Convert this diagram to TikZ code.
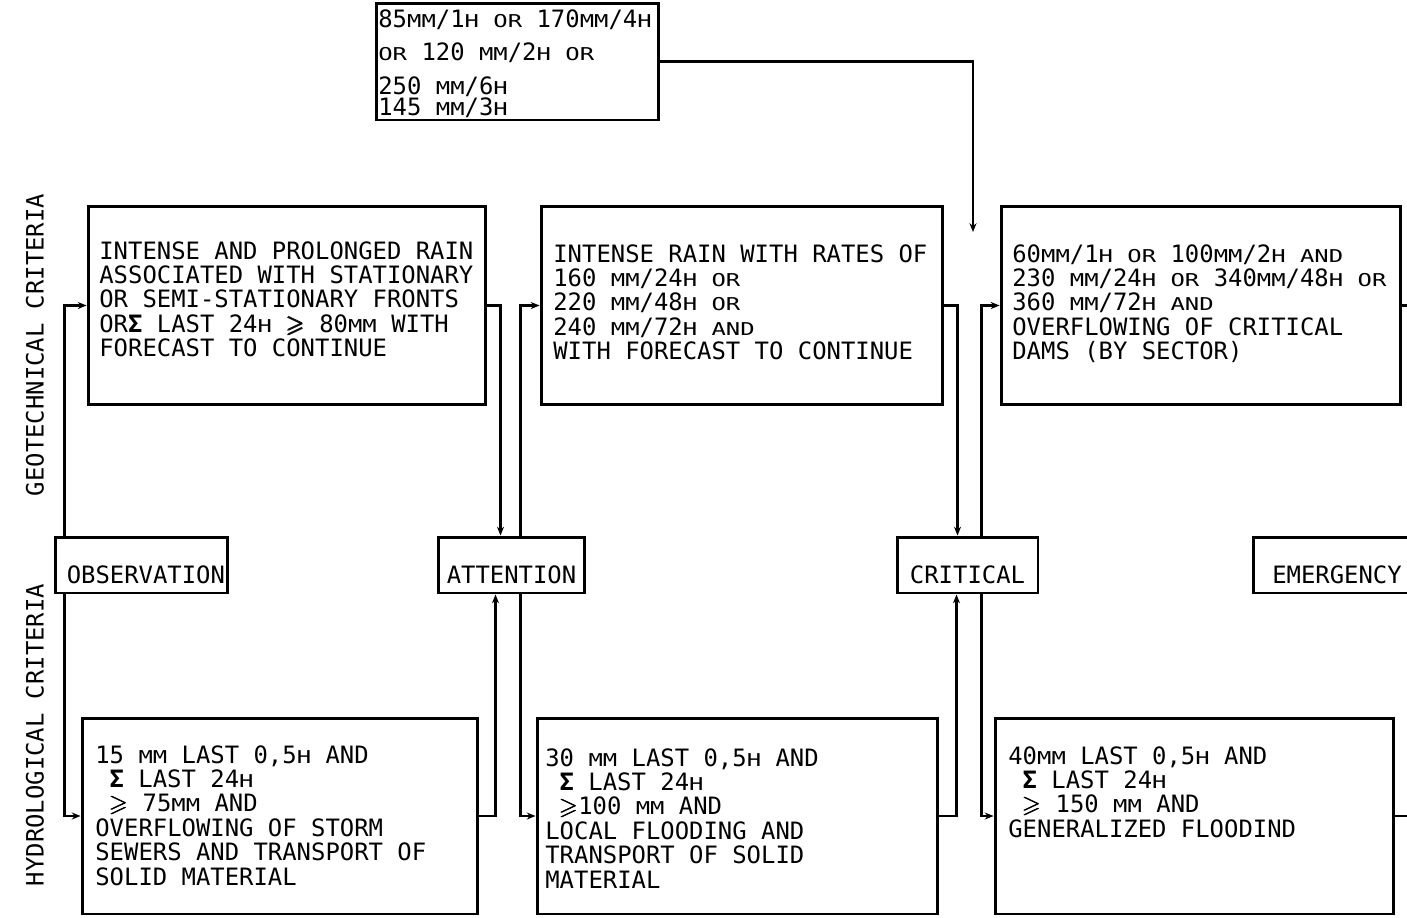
\documentclass[tikz,border=0pt]{standalone}
\usepackage{amsmath,amssymb}
\usepackage{graphicx}
\usepackage{fontspec}
\usepackage{tikz}
\usetikzlibrary{arrows.meta,positioning,calc}
\newfontfamily\critfont{DejaVu Sans Mono}
% small capitals drawn as squeezed capitals, same advance width
\newcommand\sm[1]{\scalebox{1}[0.74]{#1}}
\newcommand\sumsign{{\bfseries Σ}}
\newcommand\geqs{$\pmb{\geqslant}$}
\tikzset{
  gbox/.style={draw,line width=1.7pt,inner sep=0pt},
  lbox/.style={draw,line width=1.7pt,minimum height=1.12cm,text height=0.93cm,text depth=0.19cm,inner sep=0pt,font=\critfont\fontsize{13.6}{13.8}\selectfont},
  txt/.style={anchor=north west,align=left,inner sep=0pt,font=\critfont\fontsize{13.6}{13.9}\selectfont},
  side/.style={rotate=90,inner sep=0pt,font=\critfont\fontsize{13.6}{13.8}\selectfont},
  arr/.style={-{Stealth[length=5pt,width=4pt]},line width=1.3pt},
  lin/.style={line width=1.3pt},
}
\begin{document}
\begin{tikzpicture}[x=0.02cm,y=-0.02cm]
    \useasboundingbox (0,0) rectangle (1407,917);
    %% Side labels
    \node[side] (geolab) at (35,345) {GEOTECHNICAL CRITERIA};
    \node[side] (hydlab) at (35,735) {HYDROLOGICAL CRITERIA};
    %% Top criterion
    \node[gbox,minimum width=5.66cm,minimum height=2.34cm] (top) at (517.5,61.5) {};
    \node[txt] (toptxt) at (378,9) {85\sm{MM}/1\sm{H} \sm{OR} 170\sm{MM}/4\sm{H}\\[5.1pt]
      \sm{OR} 120 \sm{MM}/2\sm{H} \sm{OR}\\[5.7pt]
      250 \sm{MM}/6\sm{H}\\[-1.9pt]
      145 \sm{MM}/3\sm{H}};
    %% Geotechnical criteria
    \node[gbox,minimum width=7.96cm,minimum height=3.98cm] (geo1) at (287,305.5) {};
    \node[gbox,minimum width=8.04cm,minimum height=3.98cm] (geo2) at (742,305.5) {};
    \node[gbox,minimum width=8.00cm,minimum height=3.98cm] (geo3) at (1201,305.5) {};
    \node[txt] (geo1txt) at (99,241) {INTENSE AND PROLONGED RAIN\\
      ASSOCIATED WITH STATIONARY\\
      OR SEMI-STATIONARY FRONTS\\
      OR\sumsign{} LAST 24\sm{H} \geqs{} 80\sm{MM} WITH\\
      FORECAST TO CONTINUE};
    \node[txt] (geo2txt) at (553,244) {INTENSE RAIN WITH RATES OF\\
      160 \sm{MM}/24\sm{H} \sm{OR}\\
      220 \sm{MM}/48\sm{H} \sm{OR}\\
      240 \sm{MM}/72\sm{H} \sm{AND}\\
      WITH FORECAST TO CONTINUE};
    \node[txt] (geo3txt) at (1012,244) {60\sm{MM}/1\sm{H} \sm{OR} 100\sm{MM}/2\sm{H} \sm{AND}\\
      230 \sm{MM}/24\sm{H} \sm{OR} 340\sm{MM}/48\sm{H} \sm{OR}\\
      360 \sm{MM}/72\sm{H} \sm{AND}\\
      OVERFLOWING OF CRITICAL\\
      DAMS (BY SECTOR)};
    %% Levels
    \node[lbox,minimum width=3.46cm] (obs)  at (141.5,565) {\hspace*{5pt}OBSERVATION};
    \node[lbox,minimum width=2.94cm] (att)  at (511.5,565) {ATTENTION};
    \node[lbox,minimum width=2.82cm] (crit) at (967.5,565) {CRITICAL};
    \node[lbox,minimum width=3.36cm] (emer) at (1337,565) {EMERGENCY};
    %% Hydrological criteria
    \node[gbox,minimum width=7.92cm,minimum height=3.92cm] (hyd1) at (280,816) {};
    \node[gbox,minimum width=8.02cm,minimum height=3.92cm] (hyd2) at (737.5,816) {};
    \node[gbox,minimum width=7.98cm,minimum height=3.92cm] (hyd3) at (1194.5,816) {};
    \node[txt] (hyd1txt) at (95,745) {15 \sm{MM} LAST 0,5\sm{H} AND\\
      \hspace*{0.6em}\sumsign{} LAST 24\sm{H}\\
      \hspace*{0.6em}\geqs{} 75\sm{MM} AND\\
      OVERFLOWING OF STORM\\
      SEWERS AND TRANSPORT OF\\
      SOLID MATERIAL};
    \node[txt] (hyd2txt) at (545,748) {30 \sm{MM} LAST 0,5\sm{H} AND\\
      \hspace*{0.6em}\sumsign{} LAST 24\sm{H}\\
      \hspace*{0.6em}\geqs{}100 \sm{MM} AND\\
      LOCAL FLOODING AND\\
      TRANSPORT OF SOLID\\
      MATERIAL};
    \node[txt] (hyd3txt) at (1008,746) {40\sm{MM} LAST 0,5\sm{H} AND\\
      \hspace*{0.6em}\sumsign{} LAST 24\sm{H}\\
      \hspace*{0.6em}\geqs{} 150 \sm{MM} AND\\
      GENERALIZED FLOODIND};
    %% Free ends
    \coordinate (topend) at (973,232);
    \coordinate (geoout) at (1415,305.5);
    \coordinate (hydout) at (1415,816);
    %% Arrows
    \draw[arr] (top.east) -| (topend);
    \draw[arr] ($(obs.north west)+(11,0)$) |- (geo1.west);
    \draw[arr] ($(obs.south west)+(11,0)$) |- (hyd1.west);
    \draw[arr] (geo1.east) -| ($(att.north)+(-11,0)$);
    \draw[arr] (hyd1.east) -| ($(att.south)+(-16,0)$);
    \draw[arr] ($(att.north)+(9,0)$) |- (geo2.west);
    \draw[arr] ($(att.south)+(9,0)$) |- (hyd2.west);
    \draw[arr] (geo2.east) -| ($(crit.north)+(-10,0)$);
    \draw[arr] (hyd2.east) -| ($(crit.south)+(-11,0)$);
    \draw[arr] ($(crit.north)+(14,0)$) |- (geo3.west);
    \draw[arr] ($(crit.south)+(14,0)$) |- (hyd3.west);
    \draw[lin] (geo3.east) -- (geoout);
    \draw[lin] (hyd3.east) -- (hydout);
\end{tikzpicture}
\end{document}
